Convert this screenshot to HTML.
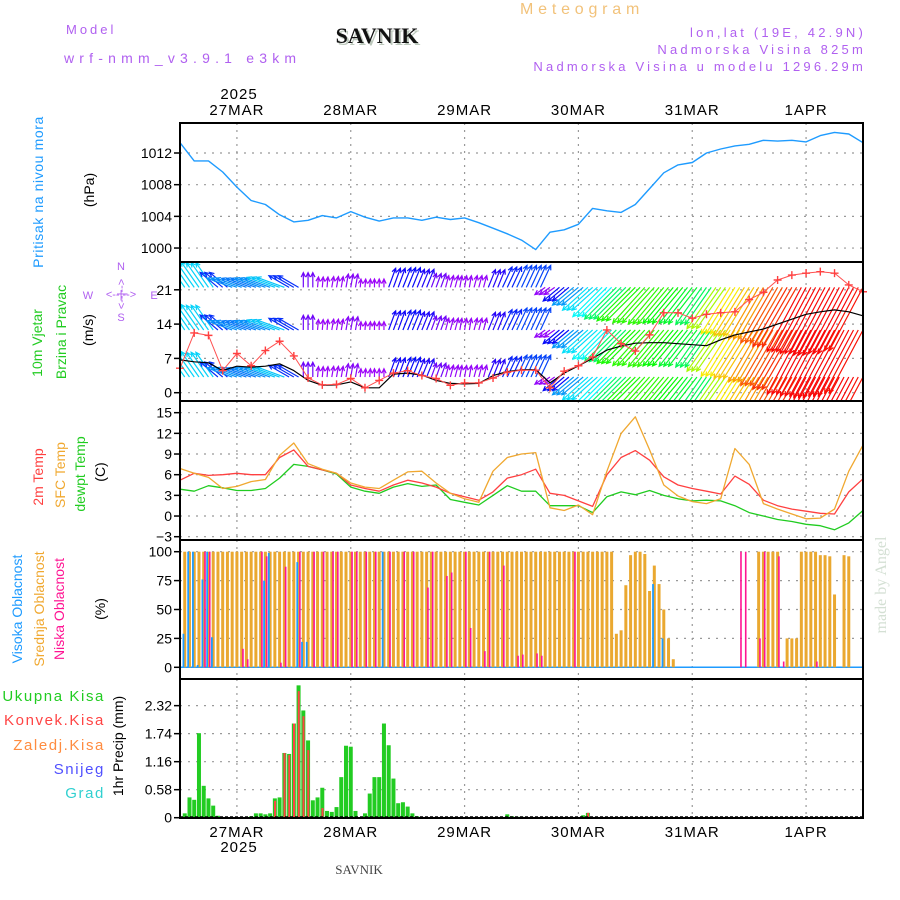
<!DOCTYPE html>
<html><head><meta charset="utf-8">
<style>
html,body{margin:0;padding:0;background:#fff;}
svg{display:block;font-family:"Liberation Sans",sans-serif;}
.tk{font-size:14px;fill:#000;text-anchor:end;}
.hd{font-size:13px;letter-spacing:3.2px;}
.rot{font-size:14px;text-anchor:middle;}
</style></head>
<body>
<svg id="chart" width="900" height="900" viewBox="0 0 900 900" xmlns="http://www.w3.org/2000/svg">
  <text x="66" y="34" font-size="13" letter-spacing="3" fill="#b060f0">Model</text>
  <text x="64" y="63" font-size="14" letter-spacing="5.2" fill="#b060f0">wrf-nmm_v3.9.1 e3km</text>
  <text x="379" y="45" font-family="Liberation Serif,serif" font-weight="bold" font-size="22" fill="#bcc8bc" text-anchor="middle">SAVNIK</text>
  <text x="377" y="43" font-family="Liberation Serif,serif" font-weight="bold" font-size="22" fill="#111" text-anchor="middle">SAVNIK</text>
  <text x="520" y="14" font-size="16" letter-spacing="4.8" fill="#f2c27a">Meteogram</text>
  <text x="866" y="37" class="hd" fill="#b060f0" text-anchor="end">lon,lat (19E, 42.9N)</text>
  <text x="866" y="54" class="hd" fill="#b060f0" text-anchor="end">Nadmorska Visina 825m</text>
  <text x="866" y="71" class="hd" fill="#b060f0" text-anchor="end">Nadmorska Visina u modelu 1296.29m</text>

  <text x="239" y="99" font-size="15" letter-spacing="1" text-anchor="middle">2025</text>
  <text x="239" y="852" font-size="15" letter-spacing="1" text-anchor="middle">2025</text>
  <text x="359" y="874" font-family="Liberation Serif,serif" font-size="13" fill="#444" text-anchor="middle">SAVNIK</text>
  <text transform="translate(886,585) rotate(-90)" font-family="Liberation Serif,serif" font-size="16" fill="#d4e0d4" text-anchor="middle">made by Angel</text>

  <text transform="translate(43,192) rotate(-90)" class="rot" fill="#1e9bff" letter-spacing="0.6">Pritisak na nivou mora</text>
  <text transform="translate(94,190) rotate(-90)" class="rot" fill="#000">(hPa)</text>

  <text transform="translate(42,343) rotate(-90)" class="rot" fill="#22cc22">10m Vjetar</text>
  <text transform="translate(66,332) rotate(-90)" class="rot" fill="#22cc22">Brzina i Pravac</text>
  <text transform="translate(93,330) rotate(-90)" class="rot" font-size="15" fill="#000">(m/s)</text>
  <g fill="#b060f0" font-size="11" text-anchor="middle">
    <text x="121" y="270">N</text><text x="121" y="321">S</text>
    <text x="88" y="299">W</text><text x="154" y="299">E</text>
    <text x="121" y="298">&lt;--|--&gt;</text>
    <text transform="translate(125,294) rotate(-90)">&lt;--|--&gt;</text>
  </g>

  <text transform="translate(43,477) rotate(-90)" class="rot" fill="#ff4040">2m Temp</text>
  <text transform="translate(65,475) rotate(-90)" class="rot" fill="#f0a830">SFC Temp</text>
  <text transform="translate(85,474) rotate(-90)" class="rot" fill="#20cc20">dewpt Temp</text>
  <text transform="translate(105,472) rotate(-90)" class="rot" fill="#000">(C)</text>

  <text transform="translate(22,609) rotate(-90)" class="rot" fill="#1e9bff">Visoka Oblacnost</text>
  <text transform="translate(44,609) rotate(-90)" class="rot" fill="#f0a830">Srednja Oblacnost</text>
  <text transform="translate(64,609) rotate(-90)" class="rot" fill="#ff1493">Niska Oblacnost</text>
  <text transform="translate(105,609) rotate(-90)" class="rot" fill="#000">(%)</text>

  <g font-size="15" letter-spacing="1.6" text-anchor="end">
    <text x="105" y="701" fill="#22cc22">Ukupna Kisa</text>
    <text x="105" y="725" fill="#ff4444">Konvek.Kisa</text>
    <text x="105" y="750" fill="#ff8c40">Zaledj.Kisa</text>
    <text x="105" y="774" fill="#5050ff">Snijeg</text>
    <text x="105" y="798" fill="#30d0d0">Grad</text>
  </g>
  <text transform="translate(123,746) rotate(-90)" class="rot" font-size="15" fill="#000">1hr Precip (mm)</text>
  <g id="plot"></g>
</svg>
<script>
// ---- data (3-hourly, index i -> hour 3*i from 26MAR 12UTC) ----
const dayLabels = ["27MAR","28MAR","29MAR","30MAR","31MAR","1APR"];
const dayHours = [12,36,60,84,108,132];
const pressure = [1013.3,1011,1011,1009.6,1007.7,1006,1005.5,1004.2,1003.3,1003.5,1004.1,1003.8,1004.6,1003.9,1003.4,1003.8,1003.8,1003.5,1003.9,1003.6,1003.8,1003.2,1002.5,1001.8,1001,999.8,1002.0,1002.3,1003.0,1005.0,1004.7,1004.5,1005.5,1007.5,1009.5,1010.5,1010.8,1012,1012.5,1012.9,1013.1,1013.6,1013.5,1013.6,1013.4,1014.2,1014.6,1014.4,1013.3];
const pressureTicks = [1000,1004,1008,1012];
const temp2m = [5.2,6.2,5.9,6.0,6.2,6.0,6.0,8.5,9.6,7.2,6.7,6.2,4.5,4.0,3.6,4.5,5.2,4.8,4.2,3.3,2.8,2.3,3.5,5.5,6.0,6.8,3.3,3.0,2.2,1.4,6.0,8.5,9.5,8.1,5.7,4.5,4.0,3.6,3.2,5.8,4.6,2.3,1.5,1.0,0.7,0.4,0.3,3.5,5.4];
const tempSfc = [6.9,6.2,5.6,4.0,4.3,5.0,5.3,8.8,10.6,7.6,6.8,6.2,4.8,4.2,4.0,5.2,6.4,6.5,4.8,3.3,2.5,2.0,6.5,8.5,9.0,9.2,1.2,0.8,1.6,0.2,6.5,12.0,14.4,9.6,4.5,2.9,2.1,1.8,2.5,9.8,7.5,1.8,1.0,0.3,-0.4,-0.3,1.0,6.5,10.3];
const dewpoint = [3.9,3.6,4.4,4.1,3.7,3.7,4.0,5.5,7.5,7.2,6.7,6.1,4.2,3.6,3.3,4.2,4.7,4.3,4.5,2.4,2.0,1.6,3.0,4.4,3.6,3.6,1.5,1.5,1.5,0.5,2.8,3.5,3.1,3.7,3.0,2.5,2.2,2.3,2.2,1.5,0.5,0.0,-0.5,-0.8,-1.2,-1.4,-2.0,-1.0,0.8];
const tempTicks = [-3,0,3,6,9,12,15];
const windSpeed = [6.7,6.3,6.1,4.5,5.4,5.2,5.4,5.9,4.5,2.5,1.5,1.6,2.2,1.0,1.0,3.8,4.0,3.6,2.5,1.9,1.8,1.9,3.5,4.3,4.7,4.7,2.0,4.0,5.5,7.0,8.7,9.5,10.1,10.2,10.2,10.0,9.8,9.6,10.8,11.8,12.4,13.0,14.0,15.0,16.0,16.5,16.9,16.5,15.7];
const windGust = [5.0,12.2,11.7,4.5,8.0,5.5,8.6,10.5,7.5,3.0,1.6,1.7,2.9,1.0,2.5,4.0,4.5,3.5,2.9,1.5,2.0,2.0,3.0,4.2,4.6,4.6,1.0,4.4,5.5,7.3,12.8,10.0,8.5,11.8,16.3,16.3,15.2,16.0,16.3,16.5,19.0,20.5,23,24,24.4,24.7,24.4,22,20.6];
const windDir = [125,125,125,140,160,160,160,160,150,90,85,80,80,85,90,70,68,68,70,75,80,75,68,65,65,65,215,220,220,222,225,225,225,228,230,230,232,235,235,238,238,240,240,240,242,242,242,242,242];
const windTicks = [0,7,14,21];
// hourly clouds
const midCloud = [0,100,100,100,100,100,100,100,100,100,100,100,
100,100,100,100,100,100,100,100,100,100,100,100,
100,100,100,100,100,100,100,100,100,100,100,100,
100,100,100,100,100,100,100,100,100,100,100,100,
100,100,100,100,100,100,100,100,100,100,100,100,
100,100,100,100,100,100,100,100,100,100,100,100,
100,100,100,100,100,100,100,100,100,100,100,100,
100,100,100,100,100,100,100,100,29,32,71,97,
100,100,98,66,88,72,50,25,7,0,0,0,
0,0,0,0,0,0,0,0,0,0,0,0,
0,0,100,100,100,100,100,0,25,25,25,100,
100,100,100,97,97,96,63,0,97,96,0,0,
0];
const highCloudHours = [1,2,3,4,5,6,7,18,19,25,26,27,43,100,102];
const highCloudVals  = [29,100,100,2,76,100,26,75,99,91,22,22,100,72,25];
const lowCloudHours = [5,6,13,14,17,18,21,22,25,28,30,32,33,36,37,39,41,44,47,49,52,53,56,57,60,61,64,65,68,71,72,75,76,83,118,119,122,123,126,127,134];
const lowCloudVals  = [100,100,16,7,100,96,4,87,100,100,100,100,100,100,100,100,100,100,100,100,69,100,79,82,100,34,14,100,88,10,11,12,10,100,100,100,25,100,96,5,5];
const cloudTicks = [0,25,50,75,100];
// hourly precipitation
const precipHours = [1,2,3,4,5,6,7,8,15,16,17,18,19,20,21,22,23,24,25,26,27,28,29,30,31,32,33,34,35,36,37,39,40,41,42,43,44,45,46,47,48,49,50,69,70,71,72,85,86];
const precipTotal = [0.09,0.42,0.37,1.75,0.66,0.40,0.25,0.04,0.03,0.09,0.09,0.07,0.09,0.40,0.42,1.34,1.32,1.95,2.74,2.22,1.60,0.36,0.42,0.62,0.14,0.12,0.22,0.84,1.49,1.47,0.14,0.09,0.5,0.84,0.84,1.95,1.5,0.81,0.3,0.32,0.23,0.09,0.03,0.07,0.03,0.02,0.02,0.05,0.1];
const convHours = [20,22,23,24,25,26,27,30,70,86];
const convVals  = [0.35,1.34,1.30,1.95,2.62,2.10,1.40,0.20,0.02,0.1];
const precipTicks = ["0","0.58","1.16","1.74","2.32"];

// ---- axes ----
const NS="http://www.w3.org/2000/svg";
const plot=document.getElementById('plot');
function mk(tag,a,p){const e=document.createElementNS(NS,tag);for(const k in a)e.setAttribute(k,a[k]);(p||plot).appendChild(e);return e;}
const X0=180,X1=863;
const xH=h=>X0+h*(X1-X0)/144;
const xI=i=>xH(3*i);
const panels=[[123,262],[262,401],[401,540],[540,679],[679,818]];
const yP=v=>153+(1012-v)*7.92;
const yW=v=>392.7-v*4.9;
const yT=v=>536.7-(v+3)*6.89;
const yC=v=>667.3-v*1.156;
const yR=v=>817.7-v*48.3;

function grid(pi,ticks,fy,fmt){
  const [t,b]=panels[pi];
  ticks.forEach(v=>{
    const y=fy(+v);
    const g=mk('line',{x1:X0,x2:X1,y1:y,y2:y,stroke:'#999','stroke-dasharray':'2,6','stroke-width':1.2});
    
    
    const tm=mk('line',{x1:X0-6,x2:X0,y1:y,y2:y,stroke:'#000','stroke-width':1.5});
    
    
    const tx=mk('text',{x:172,y:y+5,class:'tk'});tx.textContent=fmt?fmt(v):v;
    
    
  });
  dayHours.forEach(h=>{
    const v=mk('line',{x1:xH(h),x2:xH(h),y1:t,y2:b,stroke:'#999','stroke-dasharray':'2,5','stroke-width':1.2});
    
    
  });
}
grid(0,pressureTicks,yP);
grid(1,windTicks,yW);
grid(2,tempTicks,yT,v=>v<0?'\u2212'+(-v):v);
grid(3,cloudTicks,yC);
grid(4,precipTicks,yR);

dayLabels.forEach((d,k)=>{
  const a=mk('text',{x:xH(dayHours[k]),y:115,'font-size':15,'letter-spacing':1,'text-anchor':'middle'});a.textContent=d;
  
  
  const b=mk('text',{x:xH(dayHours[k]),y:837,'font-size':15,'letter-spacing':1,'text-anchor':'middle'});b.textContent=d;
  
  
});

function line(arr,fy,color,w,name){
  const d=arr.map((v,i)=>(i?'L':'M')+xI(i).toFixed(1)+','+fy(v).toFixed(1)).join('');
  const p=mk('path',{d:d,fill:'none',stroke:color,'stroke-width':w,'stroke-linejoin':'round'});
  
  
  return p;
}
const defs=mk('defs',{});
const cp=mk('clipPath',{id:'cw'},defs);mk('rect',{x:X0,y:262,width:X1-X0,height:139},cp);

// pressure
line(pressure,yP,'#1e9bff',1.4,'pressure-line');

// wind arrows (each 3-hourly value drawn at its three hourly slots)
const wg=mk('g',{'clip-path':'url(#cw)'});


const rows=[21.5,12.8,3.2];
const hueStops=[[0,280],[2,275],[4.5,230],[6,190],[8.7,180],[9.6,140],[10.2,110],[11,70],[12.5,45],[14,20],[16,0]];
function hue(s){
  if(s<=hueStops[0][0])return hueStops[0][1];
  for(let k=1;k<hueStops.length;k++){const [a,ha]=hueStops[k-1],[b,hb]=hueStops[k];if(s<=b)return ha+(hb-ha)*(s-a)/(b-a);}
  return 0;
}
windSpeed.forEach((s,i)=>{
  const a=windDir[i]*Math.PI/180,L=s*4.3+4;
  const col='hsl('+hue(s)+',95%,50%)';
  [-1,0,1].forEach(off=>{
    const hx=xH(3*i+off);
    if(hx<X0-2||hx>X1+2)return;
    rows.forEach(r=>{
      const x0=hx,y0=yW(r),x1=x0+L*Math.cos(a),y1=y0-L*Math.sin(a);
      const h1=a+Math.PI-0.45,h2=a+Math.PI+0.45;
      const ar=mk('path',{d:`M${x0},${y0}L${x1},${y1}M${x1+5*Math.cos(h1)},${y1-5*Math.sin(h1)}L${x1},${y1}L${x1+5*Math.cos(h2)},${y1-5*Math.sin(h2)}`,stroke:col,'stroke-width':1.2,fill:'none'},wg);
      
      
    });
  });
});
line(windSpeed,yW,'#000',1.2,'wind-speed-line');
line(windGust,yW,'#ff5050',1,'wind-gust-line');
windGust.forEach((v,i)=>{
  const x=xI(i),y=yW(v);
  const m=mk('path',{d:`M${x-4},${y}H${x+4}M${x},${y-4}V${y+4}`,stroke:'#ff4040','stroke-width':1.4});
  
  
});

// temperatures
line(dewpoint,yT,'#20cc20',1.3,'dewpoint-line');
line(temp2m,yT,'#ff4040',1.3,'temp-2m-line');
line(tempSfc,yT,'#f0a830',1.3,'temp-sfc-line');

// clouds
const base=mk('line',{x1:X0,x2:X1,y1:yC(0),y2:yC(0),stroke:'#1e9bff','stroke-width':1.5});


midCloud.forEach((v,h)=>{
  if(v<=0)return;
  const r=mk('rect',{x:xH(h)-1.5,y:yC(v),width:3,height:yC(0)-yC(v),fill:'#eaa830'});
  
  
});
lowCloudHours.forEach((h,k)=>{
  const v=lowCloudVals[k];
  const r=mk('rect',{x:xH(h)+0.5,y:yC(v),width:1.6,height:yC(0)-yC(v),fill:'#ff1493'});
  
  
});
highCloudHours.forEach((h,k)=>{
  const v=highCloudVals[k];
  const r=mk('rect',{x:xH(h)-2.2,y:yC(v),width:1.8,height:yC(0)-yC(v),fill:'#1e9bff'});
  
  
});

// precipitation
precipHours.forEach((h,k)=>{
  const v=precipTotal[k];
  const r=mk('rect',{x:xH(h)-2,y:yR(v),width:4,height:yR(0)-yR(v),fill:'#22cc22'});
  
  
});
convHours.forEach((h,k)=>{
  const v=convVals[k];
  const r=mk('rect',{x:xH(h)-0.8,y:yR(v),width:2,height:yR(0)-yR(v),fill:'#ff4444'});
  
  
});
const pb=mk('line',{x1:X0,x2:X1,y1:yR(0)-1,y2:yR(0)-1,stroke:'#000','stroke-width':1,'stroke-dasharray':'3,2'});



// frames
panels.forEach((p,k)=>{
  const f=mk('rect',{x:X0,y:p[0],width:X1-X0,height:p[1]-p[0],fill:'none',stroke:'#000','stroke-width':2});
  
  
});
</script>
</body></html>
